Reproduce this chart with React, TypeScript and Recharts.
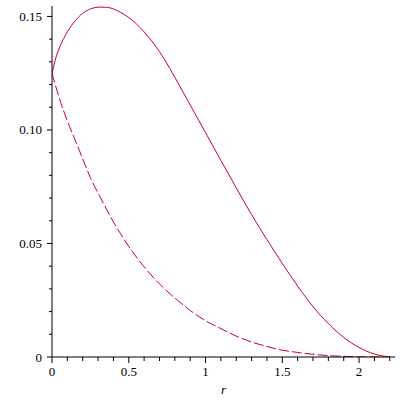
import { LineChart, Line, XAxis, YAxis } from "recharts";

// solid curve
const solidR = [0, 0.02, 0.05, 0.1, 0.15, 0.2, 0.25, 0.3, 0.35, 0.4, 0.5, 0.6, 0.7, 0.8, 0.9, 1.0, 1.1, 1.2, 1.3, 1.4, 1.5, 1.6, 1.7, 1.8, 1.9, 2.0, 2.1, 2.2];
const solidV = [0.125, 0.1305, 0.1365, 0.1432, 0.148, 0.1514, 0.1533, 0.1541, 0.154, 0.1533, 0.1495, 0.1432, 0.1345, 0.1232, 0.111, 0.0988, 0.0866, 0.0745, 0.0627, 0.0517, 0.0412, 0.0312, 0.0222, 0.0147, 0.0086, 0.0042, 0.0013, 0];

// dashed curve
const dashR = [0, 0.05, 0.1, 0.15, 0.2, 0.25, 0.3, 0.4, 0.5, 0.6, 0.7, 0.8, 0.9, 1.0, 1.1, 1.2, 1.3, 1.4, 1.5, 1.6, 1.7, 1.8, 1.9, 2.0, 2.1, 2.2];
const dashV = [0.125, 0.1135, 0.104, 0.0957, 0.0873, 0.079, 0.0722, 0.0595, 0.0487, 0.0397, 0.0322, 0.026, 0.0205, 0.016, 0.0125, 0.0092, 0.0066, 0.0046, 0.003, 0.002, 0.0012, 0.0006, 0.0003, 0.0001, 0.00003, 0];

const xTicks = [0, 0.1, 0.2, 0.3, 0.4, 0.5, 0.6, 0.7, 0.8, 0.9, 1, 1.1, 1.2, 1.3, 1.4, 1.5, 1.6, 1.7, 1.8, 1.9, 2, 2.1, 2.2];
const xLabels: Record<string, string> = { "0": "0", "0.5": "0.5", "1": "1", "1.5": "1.5", "2": "2" };
const yTicks = [0, 0.01, 0.02, 0.03, 0.04, 0.05, 0.06, 0.07, 0.08, 0.09, 0.1, 0.11, 0.12, 0.13, 0.14, 0.15];
const yLabels: Record<string, string> = { "0": "0", "0.05": "0.05", "0.1": "0.10", "0.15": "0.15" };

const solid = solidR.map((r, i) => ({ r, v: solidV[i] }));
const dashed = dashR.map((r, i) => ({ r, v: dashV[i] }));

const RED = "#cc0022";
const FONT = "'Liberation Serif', 'DejaVu Serif', 'Times New Roman', Times, serif";

function XTick(props: any) {
  const { x, y, payload } = props;
  const label = xLabels[String(payload.value)];
  return (
    <g>
      <line x1={x} x2={x} y1={y} y2={y + (label ? 6 : 4)} stroke="#000" />
      {label && (
        <text x={x} y={y + 19} textAnchor="middle" style={{ fontFamily: FONT, fontSize: 13, fill: "#000" }}>
          {label}
        </text>
      )}
    </g>
  );
}

function YTick(props: any) {
  const { x, y, payload } = props;
  const label = yLabels[String(payload.value)];
  return (
    <g>
      <line x1={x} x2={x - (label ? 5 : 3)} y1={y} y2={y} stroke="#000" />
      {label && (
        <text x={x - 10} y={y + 4.5} textAnchor="end" style={{ fontFamily: FONT, fontSize: 13, fill: "#000" }}>
          {label}
        </text>
      )}
    </g>
  );
}

export default function App() {
  return (
    <div style={{ position: "absolute", left: 0, top: 0, width: 400, height: 400, background: "#fff", fontFamily: FONT }}>
      <LineChart width={400} height={400} margin={{ top: 6, right: 5, bottom: 0, left: 0 }}>
        <XAxis
          type="number"
          dataKey="r"
          domain={[0, 2.234]}
          ticks={xTicks}
          interval={0}
          tick={<XTick />}
          tickSize={0}
          tickMargin={0}
          tickLine={false}
          axisLine={{ stroke: "#000" }}
          height={43}
          allowDataOverflow
          label={{ value: "r", position: "insideBottom", offset: 6, style: { fontFamily: FONT, fontStyle: "italic", fontSize: 13, fill: "#000" } }}
        />
        <YAxis
          type="number"
          dataKey="v"
          domain={[0, 0.1546]}
          ticks={yTicks}
          interval={0}
          tick={<YTick />}
          tickSize={0}
          tickMargin={0}
          tickLine={false}
          axisLine={{ stroke: "#000" }}
          width={52}
          allowDataOverflow
        />
        <Line data={solid} dataKey="v" type="natural" stroke={RED} strokeWidth={1} dot={false} isAnimationActive={false} />
        <Line data={dashed} dataKey="v" type="monotone" stroke={RED} strokeWidth={1} strokeDasharray="10 3" dot={false} isAnimationActive={false} />
      </LineChart>
    </div>
  );
}
